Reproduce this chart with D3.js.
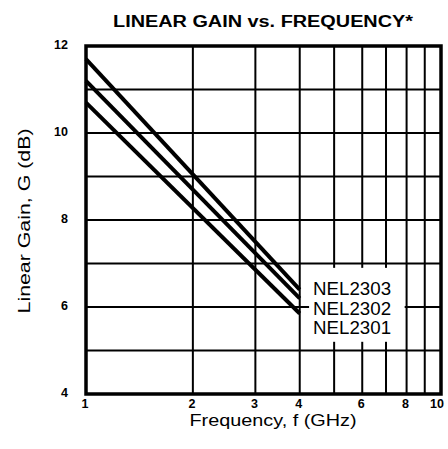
<!DOCTYPE html>
<html>
<head>
<meta charset="utf-8">
<script src="https://cdn.jsdelivr.net/npm/d3@7"></script>
<style>
  html, body { margin: 0; padding: 0; background: #fff; }
  text { font-family: "Liberation Sans", Arial, sans-serif; fill: #000; }
</style>
</head>
<body>
<svg id="chart" width="448" height="449"></svg>
<script>
"use strict";

// data (straight lines on log-frequency axis)
var freqs = [1, 4];
var nel2303 = [11.7, 6.4];
var nel2302 = [11.2, 6.2];
var nel2301 = [10.7, 5.85];
var seriesNames = ['NEL2303', 'NEL2302', 'NEL2301'];
var xGrid = [2, 3, 4, 5, 6, 7, 8, 9];
var xTickLabels = [1, 2, 3, 4, 6, 8, 10];
var yGrid = [5, 6, 7, 8, 9, 10, 11];
var yTickLabels = [4, 6, 8, 10, 12];

var svg = d3.select('#chart');
var m = { left: 86, right: 441, top: 46, bottom: 394 };

var x = d3.scaleLog().domain([1, 10]).range([m.left, m.right]);
var y = d3.scaleLinear().domain([4, 12]).range([m.bottom, m.top]);

// title
svg.append('text')
    .attr('x', 263).attr('y', 27)
    .attr('text-anchor', 'middle')
    .attr('font-weight', 'bold')
    .attr('font-size', 16)
    .attr('textLength', 300)
    .attr('lengthAdjust', 'spacingAndGlyphs')
    .text('LINEAR GAIN vs. FREQUENCY*');

var grid = svg.append('g').attr('stroke', '#000').attr('stroke-width', 2);
grid.selectAll('line.v').data(xGrid).enter().append('line')
    .attr('class', 'v')
    .attr('x1', function (d) { return x(d); })
    .attr('x2', function (d) { return x(d); })
    .attr('y1', m.top).attr('y2', m.bottom);
grid.selectAll('line.h').data(yGrid).enter().append('line')
    .attr('class', 'h')
    .attr('y1', function (d) { return y(d); })
    .attr('y2', function (d) { return y(d); })
    .attr('x1', m.left).attr('x2', m.right);

// white patch behind the series labels
svg.append('rect')
    .attr('x', x(4.25)).attr('y', y(6.9))
    .attr('width', x(7.9) - x(4.25))
    .attr('height', y(5.2) - y(6.9))
    .attr('fill', '#fff');

// frame
svg.append('rect')
    .attr('x', m.left).attr('y', m.top)
    .attr('width', m.right - m.left).attr('height', m.bottom - m.top)
    .attr('fill', 'none').attr('stroke', '#000').attr('stroke-width', 3.5);

// series
var line = d3.line()
    .x(function (d) { return x(d[0]); })
    .y(function (d) { return y(d[1]); });
[nel2303, nel2302, nel2301].forEach(function (vals) {
    svg.append('path')
        .datum(d3.zip(freqs, vals))
        .attr('d', line)
        .attr('fill', 'none')
        .attr('stroke', '#000')
        .attr('stroke-width', 4);
});

// series labels
svg.selectAll('text.lab').data(seriesNames).enter().append('text')
    .attr('class', 'lab')
    .attr('x', x(4.25) + 4)
    .attr('y', function (d, i) { return 295 + i * 19.5; })
    .attr('font-size', 18)
    .attr('textLength', 78)
    .attr('lengthAdjust', 'spacingAndGlyphs')
    .text(function (d) { return d; });

// tick labels
svg.selectAll('text.xt').data(xTickLabels).enter().append('text')
    .attr('class', 'xt')
    .attr('x', function (d) { return d === 10 ? x(d) - 4 : x(d) - 1; })
    .attr('y', 408)
    .attr('text-anchor', 'middle')
    .attr('font-weight', 'bold')
    .attr('font-size', 12.5)
    .text(function (d) { return d; });
svg.selectAll('text.yt').data(yTickLabels).enter().append('text')
    .attr('class', 'yt')
    .attr('x', 68)
    .attr('y', function (d) { return y(d) + 3; })
    .attr('text-anchor', 'end')
    .attr('font-weight', 'bold')
    .attr('font-size', 12.5)
    .text(function (d) { return d; });

// axis titles
svg.append('text')
    .attr('x', 273).attr('y', 426)
    .attr('text-anchor', 'middle')
    .attr('font-size', 17)
    .attr('textLength', 167)
    .attr('lengthAdjust', 'spacingAndGlyphs')
    .text('Frequency, f (GHz)');
svg.append('text')
    .attr('transform', 'translate(30,221) rotate(-90)')
    .attr('text-anchor', 'middle')
    .attr('font-size', 17)
    .attr('textLength', 185)
    .attr('lengthAdjust', 'spacingAndGlyphs')
    .text('Linear Gain, G (dB)');
</script>
</body>
</html>
